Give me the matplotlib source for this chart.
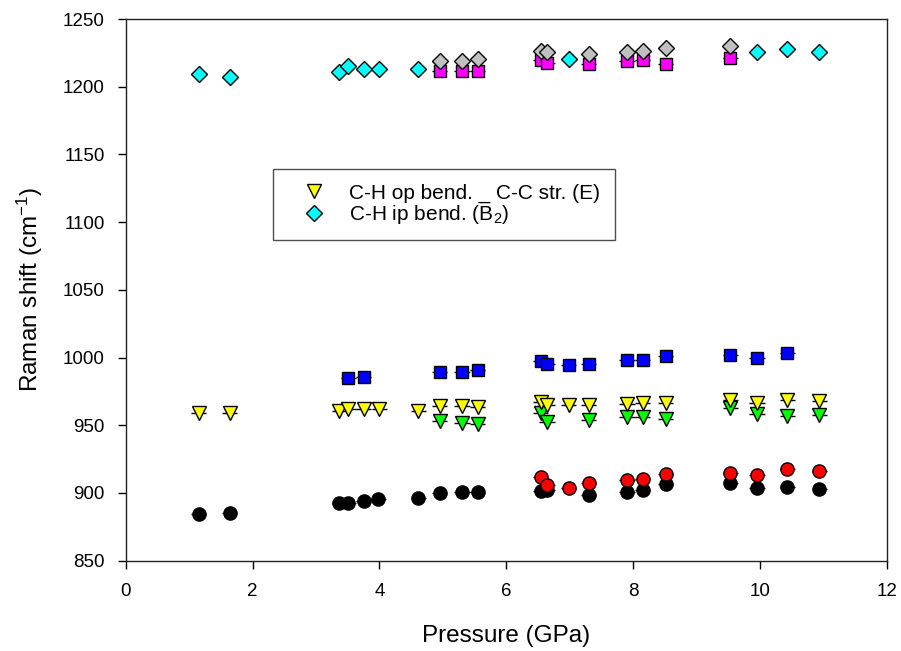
import matplotlib
matplotlib.use("Agg")
import matplotlib.pyplot as plt
from matplotlib.lines import Line2D

plt.rcParams['font.family'] = ['Liberation Sans', 'DejaVu Sans']
plt.rcParams['mathtext.fontset'] = 'custom'
plt.rcParams['mathtext.rm'] = 'Liberation Sans'
plt.rcParams['mathtext.it'] = 'Liberation Sans'

# pressão (GPa) e deslocamentos Raman (cm-1)
p_preto = [1.15, 1.64, 3.37, 3.51, 3.75, 3.98, 4.61, 4.95, 5.30, 5.55,
           6.54, 6.64, 7.30, 7.90, 8.15, 8.51, 9.53, 9.95, 10.43, 10.93]
r_preto = [884.4, 885.4, 892.3, 892.8, 894.2, 895.5, 896.5, 899.7, 900.4, 900.4,
           901.4, 902.0, 898.4, 900.9, 902.1, 906.4, 907.5, 903.4, 904.1, 902.7]

p_verm = [6.54, 6.64, 6.98, 7.30, 7.90, 8.15, 8.51, 9.53, 9.95, 10.43, 10.93]
r_verm = [911.5, 905.8, 903.4, 907.1, 909.5, 910.0, 913.9, 914.5, 913.2, 917.4, 916.2]

p_verde = [4.95, 5.30, 5.55, 6.54, 6.64, 7.30, 7.90, 8.15, 8.51, 9.53, 9.95, 10.43, 10.93]
r_verde = [953.1, 951.4, 950.9, 959.2, 952.6, 953.8, 955.8, 956.3, 954.4, 962.5,
           958.3, 957.0, 957.5]

p_amar = [1.15, 1.64, 3.37, 3.51, 3.75, 4.00, 4.61, 4.95, 5.30, 5.55, 6.54,
          6.64, 6.98, 7.30, 7.90, 8.15, 8.51, 9.53, 9.95, 10.43, 10.93]
r_amar = [959.2, 959.2, 960.7, 961.9, 961.9, 961.7, 960.5, 964.2, 964.2, 963.7, 967.4,
          964.9, 964.9, 964.9, 965.7, 966.2, 966.2, 968.6, 966.6, 968.6, 968.1]

p_azul = [3.51, 3.75, 4.95, 5.30, 5.55, 6.54, 6.64, 6.98, 7.30, 7.90, 8.15, 8.51,
          9.53, 9.95, 10.43]
r_azul = [985.1, 985.4, 989.1, 989.1, 990.8, 997.4, 995.2, 994.5, 995.2, 998.0, 998.5,
          1001.0, 1002.0, 999.5, 1003.0]

p_mag = [4.95, 5.30, 5.55, 6.54, 6.64, 7.30, 7.90, 8.15, 8.51, 9.53]
r_mag = [1211.8, 1211.8, 1211.8, 1219.7, 1217.7, 1216.8, 1219.2, 1219.7, 1216.5, 1221.4]

p_cinza = [4.95, 5.30, 5.55, 6.54, 6.64, 7.30, 7.90, 8.15, 8.51, 9.53]
r_cinza = [1219.2, 1219.2, 1220.2, 1226.4, 1225.4, 1223.9, 1225.4, 1226.4, 1228.4, 1230.3]

p_ciano = [1.15, 1.64, 3.37, 3.51, 3.75, 4.00, 4.61, 6.98, 9.95, 10.43, 10.93]
r_ciano = [1209.2, 1207.4, 1211.1, 1215.5, 1213.1, 1213.1, 1213.1, 1220.2, 1225.9,
           1227.8, 1225.9]

erro_p = 0.12  # barra de erro horizontal (GPa)

fig = plt.figure(figsize=(9.01, 6.51), dpi=100)
ax = fig.add_axes([125.7 / 901, 1 - 560.7 / 651, (887 - 125.7) / 901, (560.7 - 19) / 651])

def serie(p, r, marca, cor, tam, com_erro=True):
    if com_erro:
        ax.errorbar(p, r, xerr=erro_p, fmt='none', ecolor='black', elinewidth=1.0, capsize=0, zorder=2)
    ax.plot(p, r, linestyle='none', marker=marca, markersize=tam, markerfacecolor=cor,
            markeredgecolor='black', markeredgewidth=1.0, zorder=3)

serie(p_preto, r_preto, 'o', 'black', 9.5)
serie(p_verm, r_verm, 'o', '#ff0000', 9.5)
serie(p_verde, r_verde, 'v', '#00ff00', 10)
serie(p_amar, r_amar, 'v', '#ffff00', 10)
serie(p_azul, r_azul, 's', '#0000ff', 9)
serie(p_mag, r_mag, 's', '#ff00ff', 9)
serie(p_cinza, r_cinza, 'D', '#c0c0c0', 8.3, com_erro=False)
serie(p_ciano, r_ciano, 'D', '#00ffff', 8.3, com_erro=False)

ax.set_xlim(0, 12)
ax.set_ylim(850, 1250)
ax.set_xticks(range(0, 13, 2))
ax.set_yticks(range(850, 1251, 50))
ax.tick_params(direction='out', length=6, width=1, labelsize=13.5, top=False, right=False)
ax.tick_params(axis='x', pad=10)
ax.tick_params(axis='y', pad=9)
for s in ax.spines.values():
    s.set_linewidth(1.0)
    s.set_color('#222222')

ax.set_xlabel('Pressure (GPa)', fontsize=17.5, labelpad=18)
ax.set_ylabel('Raman shift (cm$^{-1}$)', fontsize=17.5, labelpad=13)

h1 = Line2D([], [], linestyle='none', marker='v', markersize=10, markerfacecolor='#ffff00',
            markeredgecolor='black')
h2 = Line2D([], [], linestyle='none', marker='D', markersize=8.3, markerfacecolor='#00ffff',
            markeredgecolor='black')
leg = ax.legend([h1, h2], ['C-H op bend. _ C-C str. (E)', 'C-H ip bend. (B$_2$)'],
                loc='upper left', bbox_to_anchor=(273 / 901, 1 - 169 / 651),
                bbox_transform=fig.transFigure, fontsize=15, frameon=True, fancybox=False,
                borderpad=0.7, handlelength=2.5, handletextpad=0.45, labelspacing=0.0,
                borderaxespad=0)
leg.get_frame().set_edgecolor('#222222')
leg.get_frame().set_linewidth(1.0)

fig.savefig('out.png', dpi=100)
